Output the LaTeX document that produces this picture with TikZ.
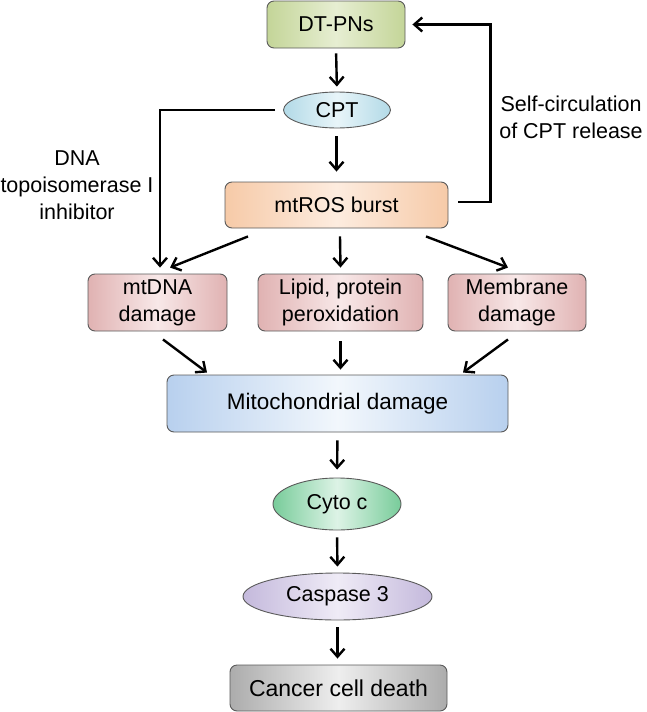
\documentclass[tikz,border=0pt]{standalone}
\usepackage{fontspec}
\setmainfont{Liberation Sans}
\usetikzlibrary{arrows.meta,shapes.geometric}
\definecolor{bordc}{HTML}{5A5A5A}
\definecolor{gA}{HTML}{C4D598}\definecolor{gB}{HTML}{E6EED2}
\definecolor{bA}{HTML}{B2DAE7}\definecolor{bB}{HTML}{E8F5F9}
\definecolor{oA}{HTML}{F6CAA8}\definecolor{oB}{HTML}{FDECDF}
\definecolor{pA}{HTML}{E0B2B2}\definecolor{pB}{HTML}{F8E8E8}
\definecolor{mA}{HTML}{B8D0EE}\definecolor{mB}{HTML}{F2F7FC}
\definecolor{cA}{HTML}{78CC9A}\definecolor{cB}{HTML}{DDF3E6}
\definecolor{vA}{HTML}{C4B9DC}\definecolor{vB}{HTML}{EFEBF6}
\definecolor{kA}{HTML}{ACACAC}\definecolor{kB}{HTML}{EEEEEE}
\tikzset{
  box/.style={draw=bordc, line width=0.9pt, rounded corners=7pt, inner sep=0pt, align=center, font=\fontsize{21.5}{27}\selectfont},
  oval/.style={ellipse, draw=bordc, line width=0.9pt, inner sep=0pt, align=center, font=\fontsize{21.5}{27}\selectfont},
  shd/.style 2 args={left color=#1, right color=#1, middle color=#2},
  arr/.style={line width=2.4pt, -{Straight Barb[length=8pt,width=14pt,line width=2.4pt]}},
  lbl/.style={inner sep=0pt, align=center, font=\fontsize{21.5}{27}\selectfont}
}
\begin{document}
\begin{tikzpicture}[x=1pt,y=-1pt]
\useasboundingbox (0,0) rectangle (647,712);
\node[box, shd={gA}{gB}, minimum width=138pt, minimum height=47pt] (dt) at (336,24.5) {DT-PNs};
\node[oval, shd={bA}{bB}, minimum width=107pt, minimum height=36pt] (cpt) at (337,110) {CPT};
\node[box, shd={oA}{oB}, minimum width=223pt, minimum height=46pt] (ros) at (336.5,205) {mtROS burst};
\node[box, shd={pA}{pB}, minimum width=139pt, minimum height=57pt] (mtdna) at (157.5,302.5) {mtDNA\\damage};
\node[box, shd={pA}{pB}, minimum width=165pt, minimum height=57pt] (lipid) at (340.5,302.5) {Lipid, protein\\peroxidation};
\node[box, shd={pA}{pB}, minimum width=138pt, minimum height=57pt] (memb) at (517,302.5) {Membrane\\damage};
\node[box, shd={mA}{mB}, minimum width=341pt, minimum height=57pt, font=\fontsize{22.5}{27}\selectfont] (mito) at (337.5,403.5) {Mitochondrial damage};
\node[oval, shd={cA}{cB}, minimum width=128pt, minimum height=52pt] (cyto) at (337,504) {Cyto c};
\node[oval, shd={vA}{vB}, minimum width=189pt, minimum height=47pt] (casp) at (337.5,596.5) {Caspase 3};
\node[box, shd={kA}{kB}, minimum width=217pt, minimum height=46pt, font=\fontsize{23}{27}\selectfont] (cancer) at (338.5,688) {Cancer cell death};
\node[lbl] (topo) at (77,185) {DNA\\topoisomerase I\\inhibitor};
\node[lbl] (selfc) at (571,117) {Self-circulation\\of CPT release};
% arrows
\draw[arr, shorten <=5pt, shorten >=5pt] (dt.south) -- (cpt.north);
\draw[arr, shorten <=8pt, shorten >=10pt] ([xshift=-0.5pt]cpt.south) -- (ros.north);
\draw[arr] ([xshift=-8pt]cpt.west) -| ([xshift=2.5pt,yshift=6pt]mtdna.north);
\draw[arr] ([xshift=10pt,yshift=3pt]ros.east) -- ++(32,0) |- ([xshift=7pt]dt.east);
\draw[arr] ([xshift=-88.5pt,yshift=-8pt]ros.south) -- ([xshift=12.5pt,yshift=6pt]mtdna.north);
\draw[arr] ([xshift=3.5pt,yshift=-8pt]ros.south) -- ([yshift=6pt]lipid.north);
\draw[arr] ([xshift=89.5pt,yshift=-8pt]ros.south) -- ([xshift=-9pt,yshift=6pt]memb.north);
\draw[arr] ([xshift=5.5pt,yshift=-8pt]mtdna.south) -- ([xshift=-130.5pt,yshift=2pt]mito.north);
\draw[arr, shorten <=10pt, shorten >=5pt] (lipid.south) -- ([xshift=3pt]mito.north);
\draw[arr] ([xshift=-9pt,yshift=-8pt]memb.south) -- ([xshift=125.5pt,yshift=2pt]mito.north);
\draw[arr, shorten <=8pt, shorten >=8pt] (mito.south) -- (cyto.north);
\draw[arr, shorten <=7pt, shorten >=6pt] (cyto.south) -- (casp.north);
\draw[arr, shorten <=7pt, shorten >=6pt] (casp.south) -- ([xshift=-1pt]cancer.north);
\end{tikzpicture}
\end{document}
